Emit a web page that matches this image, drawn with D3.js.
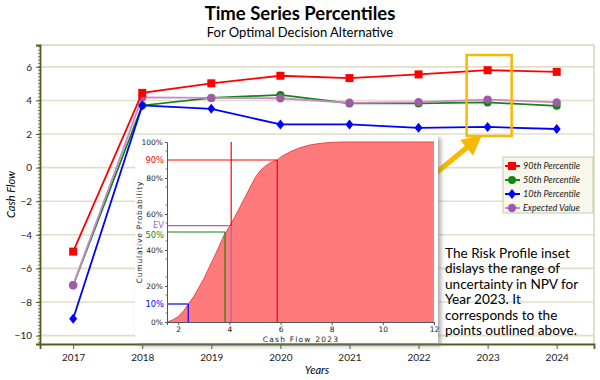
<!DOCTYPE html>
<html>
<head>
<meta charset="utf-8">
<script src="https://cdn.jsdelivr.net/npm/d3@7"></script>
<style>
  html, body { margin: 0; padding: 0; background: #fff; }
  svg { display: block; font-family: Lato, "Open Sans", sans-serif; }
</style>
</head>
<body>
<div id="chart"></div>
<script>
// ---------- data ----------
const years = [2017, 2018, 2019, 2020, 2021, 2022, 2023, 2024];
const p90 = [-5, 4.45, 5.02, 5.47, 5.33, 5.55, 5.8, 5.7];
const p50 = [-7, 3.7, 4.15, 4.33, 3.82, 3.82, 3.88, 3.68];
const p10 = [-9, 3.7, 3.5, 2.57, 2.57, 2.37, 2.42, 2.3];
const evVals = [-7, 4.18, 4.15, 4.13, 3.86, 3.9, 4.05, 3.88];
const yTicks = [-10, -8, -6, -4, -2, 0, 2, 4, 6];

const seriesNames = ["90th Percentile", "50th Percentile", "10th Percentile", "Expected Value"];

// risk profile inset (year 2023)
const cdfX = [1.56, 1.8, 2.0, 2.2, 2.4, 2.6, 2.8, 3.0, 3.2, 3.4, 3.6, 3.8, 4.0, 4.2, 4.4, 4.6, 4.8, 5.0, 5.2, 5.4, 5.6, 5.87, 6.0, 6.4, 6.8, 7.2, 7.6, 8.0, 8.5, 12];
const cdfP = [0, 0.012, 0.03, 0.06, 0.1, 0.14, 0.19, 0.24, 0.3, 0.36, 0.42, 0.485, 0.53, 0.58, 0.635, 0.69, 0.745, 0.80, 0.84, 0.865, 0.885, 0.9, 0.915, 0.948, 0.97, 0.985, 0.993, 0.998, 1.0, 1.0];
const insetXTicks = [2, 4, 6, 8, 10, 12];
const insetYTicks = [0, 0.2, 0.4, 0.6, 0.8, 1.0];
const markerLabels = ["10%", "50%", "EV", "90%"];
const markerValues = [2.39, 3.83, 4.07, 5.87];
const markerProbs = [0.1, 0.5, 0.535, 0.9];

const annotation = ["The Risk Profile inset", "dislays the range of", "uncertainty in NPV for", "Year 2023. It", "corresponds to the", "points outlined above."];

// ---------- setup ----------
const W = 600, H = 380;
const svg = d3.select("#chart").append("svg").attr("width", W).attr("height", H);
const defs = svg.append("defs");
const f = defs.append("filter").attr("id", "shadow").attr("x", "-10%").attr("y", "-10%").attr("width", "130%").attr("height", "130%");
f.append("feDropShadow").attr("dx", 3).attr("dy", 3).attr("stdDeviation", 2).attr("flood-color", "#777").attr("flood-opacity", 0.6);

const M = { left: 40, right: 594, top: 45, bottom: 344 };
const x = d3.scaleLinear().domain([2016.52, 2024.54]).range([M.left, M.right]);
const y = d3.scaleLinear().domain([-10.5, 7.3]).range([M.bottom, M.top]);

// titles
svg.append("text").attr("x", 300).attr("y", 20).attr("text-anchor", "middle")
  .attr("font-size", 18.5).attr("font-weight", "bold").attr("fill", "#000").text("Time Series Percentiles");
svg.append("text").attr("x", 300).attr("y", 37).attr("text-anchor", "middle")
  .attr("font-size", 13).attr("fill", "#000").text("For Optimal Decision Alternative");

// grid
svg.append("g").selectAll("line").data(yTicks).join("line")
  .attr("x1", M.left).attr("x2", M.right).attr("y1", d => y(d)).attr("y2", d => y(d))
  .attr("stroke", "#e0e0c8").attr("stroke-width", 1.6);

// top/right borders
svg.append("line").attr("x1", M.left).attr("x2", M.right).attr("y1", M.top).attr("y2", M.top).attr("stroke", "#d6d6bc").attr("stroke-width", 1.5);
svg.append("line").attr("x1", M.right).attr("x2", M.right).attr("y1", M.top).attr("y2", M.bottom).attr("stroke", "#d6d6bc").attr("stroke-width", 1.5);

// axes
const axisColor = "#4f5f22";
const yAxis = svg.append("g").attr("transform", `translate(${M.left},0)`)
  .call(d3.axisLeft(y).tickValues(yTicks).tickSize(4).tickPadding(4));
const yMinor = d3.range(-10.4, 7.3, 0.2).map(v => Math.round(v * 10) / 10);
svg.append("g").selectAll("line").data(yMinor).join("line")
  .attr("x1", M.left - 2).attr("x2", M.left).attr("y1", d => y(d)).attr("y2", d => y(d))
  .attr("stroke", axisColor).attr("stroke-width", 0.8);
const xAxis = svg.append("g").attr("transform", `translate(0,${M.bottom})`)
  .call(d3.axisBottom(x).tickValues(years).tickFormat(d3.format("d")).tickSize(5).tickPadding(5));
[yAxis, xAxis].forEach(g => {
  g.select(".domain").attr("stroke", axisColor).attr("stroke-width", 1.8);
  g.selectAll(".tick line").attr("stroke", axisColor);
  g.selectAll("text").attr("font-family", "Lato, sans-serif").attr("font-size", 10).attr("fill", "#222");
});

svg.append("text").attr("transform", `translate(15,${(M.top + M.bottom) / 2}) rotate(-90)`)
  .attr("text-anchor", "middle").attr("font-size", 11).attr("font-style", "italic").text("Cash Flow");
svg.append("text").attr("x", (M.left + M.right) / 2).attr("y", 374).attr("text-anchor", "middle")
  .attr("font-size", 11).attr("font-style", "italic").text("Years");

// series
const colors = { p90: "#ff0000", p50: "#108810", p10: "#0000ff", ev: "#c888d0" };
const line = d3.line().x(d => x(d[0])).y(d => y(d[1]));
function drawSeries(vals, lineColor, markerFn) {
  const pts = years.map((yr, i) => [yr, vals[i]]);
  svg.append("path").datum(pts).attr("d", line).attr("fill", "none")
    .attr("stroke", lineColor).attr("stroke-width", 1.8);
  const g = svg.append("g");
  pts.forEach(p => markerFn(g, x(p[0]), y(p[1])));
}
const sq = (c) => (g, cx, cy) => g.append("rect").attr("x", cx - 4).attr("y", cy - 4).attr("width", 8).attr("height", 8).attr("fill", c);
const circ = (c, r) => (g, cx, cy) => g.append("circle").attr("cx", cx).attr("cy", cy).attr("r", r).attr("fill", c);
const dia = (c) => (g, cx, cy) => g.append("path").attr("d", `M${cx},${cy - 5}L${cx + 4},${cy}L${cx},${cy + 5}L${cx - 4},${cy}Z`).attr("fill", c);

drawSeries(p50, colors.p50, circ("#108810", 4));
drawSeries(evVals, colors.ev, circ("#a05aa8", 4.2));
drawSeries(p10, colors.p10, dia("#0000ff"));
drawSeries(p90, colors.p90, sq("#ff0000"));

// highlight rectangle
const hl = 2023;
svg.append("rect").attr("x", x(hl) - 21).attr("y", 55).attr("width", 45).attr("height", 81)
  .attr("fill", "none").attr("stroke", "#f7b800").attr("stroke-width", 2.5);

// arrow
(function () {
  const x0 = 436, y0 = 173, x1 = 482, y1 = 135;
  const ang = Math.atan2(y1 - y0, x1 - x0);
  const L = Math.hypot(x1 - x0, y1 - y0);
  const hw = 2.6, headL = 20, headW = 10;
  const pts = [[0, -hw], [L - headL, -hw], [L - headL, -headW], [L, 0], [L - headL, headW], [L - headL, hw], [0, hw]];
  const c = Math.cos(ang), s = Math.sin(ang);
  const tp = pts.map(p => [x0 + p[0] * c - p[1] * s, y0 + p[0] * s + p[1] * c]);
  svg.append("path").attr("d", "M" + tp.map(p => p.join(",")).join("L") + "Z").attr("fill", "#f7b800");
})();

// legend
const lg = svg.append("g");
lg.append("rect").attr("x", 503).attr("y", 157).attr("width", 90).attr("height", 56)
  .attr("fill", "#f7f7ec").attr("stroke", "#c8c8aa").attr("stroke-width", 1);
const legMarkers = [sq("#ff0000"), circ("#108810", 4), dia("#0000ff"), circ("#a05aa8", 4.2)];
const legColors = [colors.p90, colors.p50, colors.p10, colors.ev];
seriesNames.forEach((name, i) => {
  const cy = 166 + i * 14;
  lg.append("line").attr("x1", 505).attr("x2", 520).attr("y1", cy).attr("y2", cy).attr("stroke", legColors[i]).attr("stroke-width", 2);
  legMarkers[i](lg, 512, cy);
  lg.append("text").attr("x", 523).attr("y", cy + 3).attr("font-size", 9).attr("font-style", "italic").attr("fill", "#222").text(name);
});

// annotation text
annotation.forEach((t, i) => {
  svg.append("text").attr("x", 445).attr("y", 258 + i * 15.4).attr("font-size", 13.6).attr("fill", "#000").text(t);
});

// ---------- inset ----------
const inset = svg.append("g");
inset.append("rect").attr("x", 135).attr("y", 135).attr("width", 303).attr("height", 208)
  .attr("fill", "#fff").attr("filter", "url(#shadow)");
const ix = d3.scaleLinear().domain([1.56, 12]).range([167, 434]);
const iy = d3.scaleLinear().domain([0, 1]).range([322, 142]);
const cdf = cdfX.map((v, i) => [v, cdfP[i]]);
inset.append("path").datum(cdf)
  .attr("d", d3.area().x(d => ix(d[0])).y0(iy(0)).y1(d => iy(d[1])))
  .attr("fill", "#ff7a7a");
inset.append("path").datum(cdf)
  .attr("d", d3.line().x(d => ix(d[0])).y(d => iy(d[1])))
  .attr("fill", "none").attr("stroke", "#e84848").attr("stroke-width", 1);

// marker lines
const mColors = ["#0000ff", "#108810", "#b060b8", "#ff0000"];
markerValues.forEach((v, i) => {
  inset.append("line").attr("x1", 167).attr("x2", ix(v)).attr("y1", iy(markerProbs[i])).attr("y2", iy(markerProbs[i]))
    .attr("stroke", mColors[i]).attr("stroke-width", 1.2);
  inset.append("line").attr("x1", ix(v)).attr("x2", ix(v)).attr("y1", iy(markerProbs[i])).attr("y2", iy(0))
    .attr("stroke", mColors[i]).attr("stroke-width", 1.2);
});
// red line from the top at the EV value
inset.append("line").attr("x1", ix(markerValues[2])).attr("x2", ix(markerValues[2]))
  .attr("y1", iy(1)).attr("y2", iy(markerProbs[2])).attr("stroke", "#ff0000").attr("stroke-width", 1.2);

// inset axes
const iyAxis = inset.append("g").attr("transform", "translate(167,0)")
  .call(d3.axisLeft(iy).tickValues(insetYTicks).tickFormat(d3.format(".0%")).tickSize(2).tickPadding(2));
const ixAxis = inset.append("g").attr("transform", "translate(0,322)")
  .call(d3.axisBottom(ix).tickValues(insetXTicks).tickSize(3).tickPadding(2));
[iyAxis, ixAxis].forEach(g => {
  g.select(".domain").attr("stroke", "#555").attr("stroke-width", 1);
  g.selectAll(".tick line").attr("stroke", "#555");
  g.selectAll("text").attr("font-family", "'DejaVu Sans', sans-serif").attr("font-size", 7.5).attr("fill", "#222");
});
const iMinor = d3.range(0.05, 1, 0.1);
inset.append("g").selectAll("line").data(iMinor).join("line")
  .attr("x1", 165.5).attr("x2", 167).attr("y1", d => iy(d)).attr("y2", d => iy(d)).attr("stroke", "#555").attr("stroke-width", 0.8);

// colored probability labels (small offsets keep EV and 50% apart)
const labelDy = [3.3, 5.6, 1.8, 3.3];
markerLabels.forEach((lab, i) => {
  inset.append("text").attr("x", 164).attr("y", iy(markerProbs[i]) + labelDy[i]).attr("text-anchor", "end")
    .attr("font-family", "'DejaVu Sans', sans-serif").attr("font-size", 8.3).attr("fill", mColors[i]).text(lab);
});

inset.append("text").attr("transform", `translate(142,232) rotate(-90)`).attr("text-anchor", "middle")
  .attr("font-family", "'DejaVu Sans', sans-serif").attr("font-size", 7.5).attr("letter-spacing", 0.8).attr("fill", "#222")
  .text("Cumulative Probability");
inset.append("text").attr("x", 301).attr("y", 342).attr("text-anchor", "middle")
  .attr("font-family", "'DejaVu Sans', sans-serif").attr("font-size", 7.5).attr("letter-spacing", 1.2).attr("fill", "#222")
  .text("Cash Flow 2023");
</script>
</body>
</html>
